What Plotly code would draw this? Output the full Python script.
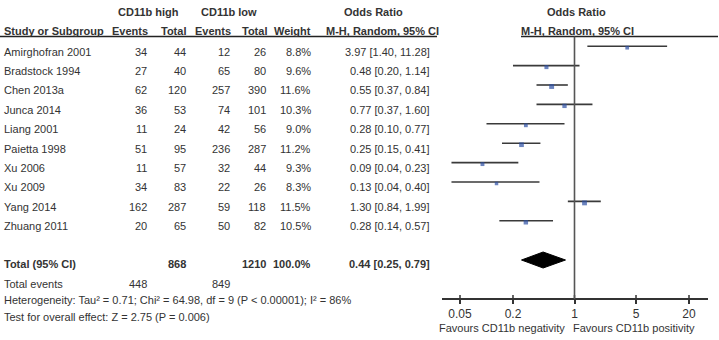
import plotly.graph_objects as go
import numpy as np

W, H = 719, 340

studies = ["Amirghofran 2001", "Bradstock 1994", "Chen 2013a", "Junca 2014", "Liang 2001",
           "Paietta 1998", "Xu 2006", "Xu 2009", "Yang 2014", "Zhuang 2011"]
ev_high = [34, 27, 62, 36, 11, 51, 11, 34, 162, 20]
tot_high = [44, 40, 120, 53, 24, 95, 57, 83, 287, 65]
ev_low = [12, 65, 257, 74, 42, 236, 32, 22, 59, 50]
tot_low = [26, 80, 390, 101, 56, 287, 44, 26, 118, 82]
weights = [8.8, 9.6, 11.6, 10.3, 9.0, 11.2, 9.3, 8.3, 11.5, 10.5]
or_est = [3.97, 0.48, 0.55, 0.77, 0.28, 0.25, 0.09, 0.13, 1.30, 0.28]
or_lo = [1.40, 0.20, 0.37, 0.37, 0.10, 0.15, 0.04, 0.04, 0.84, 0.14]
or_hi = [11.28, 1.14, 0.84, 1.60, 0.77, 0.41, 0.23, 0.40, 1.99, 0.57]

total_high, total_low = 868, 1210
total_ev_high, total_ev_low = 448, 849
pooled = (0.44, 0.25, 0.79)
het_text = "Heterogeneity: Tau² = 0.71; Chi² = 64.98, df = 9 (P < 0.00001); I² = 86%"
test_text = "Test for overall effect: Z = 2.75 (P = 0.006)"
tick_vals = [0.05, 0.2, 1, 5, 20]
tick_text = ["0.05", "0.2", "1", "5", "20"]

FONT = "Liberation Sans, Arial, sans-serif"
FS = 11
TXT = "#333333"

# layout geometry (pixel units)
row0, step = 51.5, 19.4
line_off = -5.3
y_total = 264
y_diamond = 260
y_totev = 284
y_het = 300
y_test = 317
y_axis = 299
y_head1, y_head2, y_hline = 12, 31, 36.5

def px(x):
    return x / W

fig = go.Figure()

row_y = [row0 + step * i for i in range(len(studies))]

# CI lines
for i in range(len(studies)):
    yl = row_y[i] + line_off
    fig.add_trace(go.Scatter(x=[or_lo[i], or_hi[i]], y=[yl, yl], mode="lines",
                             line=dict(color="#3a3a3a", width=1.6), hoverinfo="skip",
                             showlegend=False))
# markers
fig.add_trace(go.Scatter(x=or_est, y=[y + line_off + 1.5 for y in row_y], mode="markers",
                         marker=dict(symbol="square", color="#2c4fa3",
                                     size=[w * 0.42 for w in weights], line=dict(width=0)),
                         showlegend=False, hoverinfo="skip"))
# diamond
est, lo, hi = pooled
fig.add_trace(go.Scatter(x=[lo, est, hi, est, lo],
                         y=[y_diamond, y_diamond - 8, y_diamond, y_diamond + 8, y_diamond],
                         mode="lines", fill="toself", fillcolor="black",
                         line=dict(color="black", width=1), showlegend=False, hoverinfo="skip"))
# upper parts of axis ticks
for tv in tick_vals:
    fig.add_trace(go.Scatter(x=[tv, tv], y=[y_axis - 4, y_axis], mode="lines",
                             line=dict(color="#333", width=1.5), showlegend=False,
                             hoverinfo="skip"))

ann = []
def text(x, y, s, anchor="left", bold=False):
    if bold:
        s = "<b>" + s + "</b>"
    ann.append(dict(x=px(x), y=y, xref="paper", yref="y",
                    text=s, showarrow=False, xanchor=anchor, yanchor="middle",
                    font=dict(family=FONT, size=FS, color=TXT)))

# headers
text(148, y_head1, "CD11b high", "center", True)
text(229, y_head1, "CD11b low", "center", True)
text(373, y_head1, "Odds Ratio", "center", True)
text(576, y_head1, "Odds Ratio", "center", True)
text(2, y_head2, "Study or Subgroup", "left", True)
text(150, y_head2, "Events", "right", True)
text(188, y_head2, "Total", "right", True)
text(233, y_head2, "Events", "right", True)
text(269, y_head2, "Total", "right", True)
text(313, y_head2, "Weight", "right", True)
text(382, y_head2, "M-H, Random, 95% CI", "center", True)
text(577, y_head2, "M-H, Random, 95% CI", "center", True)

# rows
for i, s in enumerate(studies):
    y = row_y[i]
    text(2, y, s, "left")
    text(149, y, str(ev_high[i]), "right")
    text(188, y, str(tot_high[i]), "right")
    text(232, y, str(ev_low[i]), "right")
    text(268, y, str(tot_low[i]), "right")
    text(313, y, f"{weights[i]:.1f}%", "right")
    text(432, y, f"{or_est[i]:.2f} [{or_lo[i]:.2f}, {or_hi[i]:.2f}]", "right")

# totals
text(2, y_total, "Total (95% CI)", "left", True)
text(188, y_total, str(total_high), "right", True)
text(268, y_total, str(total_low), "right", True)
text(313, y_total, "100.0%", "right", True)
text(432, y_total, f"{est:.2f} [{lo:.2f}, {hi:.2f}]", "right", True)
text(2, y_totev, "Total events", "left")
text(149, y_totev, str(total_ev_high), "right")
text(232, y_totev, str(total_ev_low), "right")
text(2, y_het, het_text, "left")
text(2, y_test, test_text, "left")

# favours labels
text(567, 328, "Favours CD11b negativity", "right")
text(571, 328, "Favours CD11b positivity", "left")

shapes = [
    dict(type="line", xref="paper", yref="y", x0=0, x1=px(437), y0=y_hline, y1=y_hline,
         line=dict(color="#222", width=1.3)),
    dict(type="line", xref="paper", yref="y", x0=px(521), x1=px(718), y0=y_hline, y1=y_hline,
         line=dict(color="#222", width=1.3)),
    dict(type="line", xref="x", yref="y", x0=1, x1=1, y0=y_hline, y1=y_axis,
         line=dict(color="#555", width=1.6)),
]

# x axis: log scale, 0.05 at px 460, 20 at px 689
x0p, x1p = 442, 708
ppd = (689 - 460) / (np.log10(20) - np.log10(0.05))
lo_log = np.log10(0.05) - (460 - x0p) / ppd
hi_log = np.log10(20) + (x1p - 689) / ppd

fig.update_layout(
    width=W, height=H, margin=dict(l=0, r=0, t=0, b=0),
    paper_bgcolor="white", plot_bgcolor="white",
    xaxis=dict(type="log", domain=[px(x0p), px(x1p)], range=[lo_log, hi_log],
               showgrid=False, zeroline=False, showline=True, linecolor="#333", linewidth=1.5,
               ticks="outside", ticklen=4, tickwidth=1.5, tickcolor="#333",
               tickvals=tick_vals, ticktext=tick_text,
               tickfont=dict(family=FONT, size=12, color=TXT),
               anchor="free", position=(H - y_axis) / H),
    yaxis=dict(domain=[0, 1], range=[H, 0], visible=False,
               showgrid=False, zeroline=False),
    annotations=ann, shapes=shapes,
)

fig.write_html("out.html")
